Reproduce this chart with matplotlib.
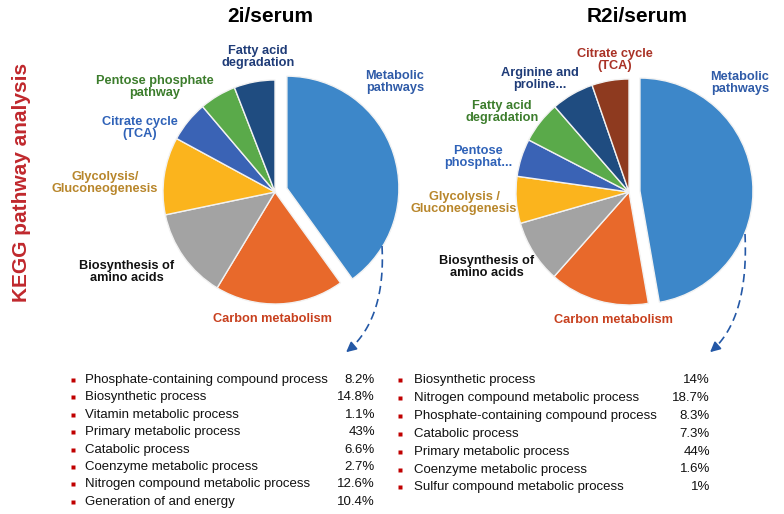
import numpy as np
import matplotlib
matplotlib.use("Agg")
import matplotlib.pyplot as plt

plt.rcParams["font.family"] = ["Liberation Sans", "DejaVu Sans"]

W, H = 784, 514

# KEGG pathway shares
left_labels = ["Metabolic\npathways", "Carbon metabolism", "Biosynthesis of\namino acids",
               "Glycolysis/\nGluconeogenesis", "Citrate cycle\n(TCA)",
               "Pentose phosphate\npathway", "Fatty acid\ndegradation"]
left_vals = [40.1, 18.6, 13.1, 11.2, 5.9, 5.3, 5.9]
left_colors = ["#3d87c9", "#e8692b", "#a3a3a3", "#fbb41d", "#3a63b5", "#5aaa4a", "#1f4c80"]
left_text_colors = ["#2f5ba8", "#c8401e", "#111111", "#b8862b", "#2f62b8", "#3c7d2c", "#1f3c78"]

right_labels = ["Metabolic\npathways", "Carbon metabolism", "Biosynthesis of\namino acids",
                "Glycolysis /\nGluconeogenesis", "Pentose\nphosphat...",
                "Fatty acid\ndegradation", "Arginine and\nproline...", "Citrate cycle\n(TCA)"]
right_vals = [47.3, 14.3, 9.0, 6.7, 5.4, 6.0, 6.1, 5.3]
right_colors = ["#3d87c9", "#e8692b", "#a3a3a3", "#fbb41d", "#3a63b5", "#5aaa4a", "#1f4c80", "#8e3a1f"]
right_text_colors = ["#2f5ba8", "#c8401e", "#111111", "#b8862b", "#2f62b8", "#3c7d2c", "#1f3c78", "#a93226"]

# GO process lists
left_terms = ["Phosphate-containing compound process", "Biosynthetic process",
              "Vitamin metabolic process", "Primary metabolic process", "Catabolic process",
              "Coenzyme metabolic process", "Nitrogen compound metabolic process",
              "Generation of and energy"]
left_pct = [8.2, 14.8, 1.1, 43, 6.6, 2.7, 12.6, 10.4]

right_terms = ["Biosynthetic process", "Nitrogen compound metabolic process",
               "Phosphate-containing compound process", "Catabolic process",
               "Primary metabolic process", "Coenzyme metabolic process",
               "Sulfur compound metabolic process"]
right_pct = [14, 18.7, 8.3, 7.3, 44, 1.6, 1]

# label positions in image pixels (x, y from top)
left_label_pos = [(395, 82), (272, 319), (127, 272), (105, 183), (140, 128), (155, 87), (258, 57)]
right_label_pos = [(740, 83), (613, 320), (487, 267), (464, 203), (478, 157), (502, 112), (540, 79), (615, 60)]

fig = plt.figure(figsize=(W / 100, H / 100), dpi=100)
ax = fig.add_axes([0, 0, 1, 1])


def Y(y):
    return H - y


def draw_pie(vals, colors, center, r, expl):
    # explode is in data units (pixels here)
    explode = [expl] + [0] * (len(vals) - 1)
    ax.pie(vals, colors=colors, startangle=90, counterclock=False, radius=r,
           center=(center[0], Y(center[1])), explode=explode,
           wedgeprops=dict(edgecolor="#f2f2f2", linewidth=1.0))


draw_pie(left_vals, left_colors, (275, 192), 112, 12.5)
draw_pie(right_vals, right_colors, (629, 192), 113, 11)

for labels, pos, cols in [(left_labels, left_label_pos, left_text_colors),
                          (right_labels, right_label_pos, right_text_colors)]:
    for lab, (x, y), c in zip(labels, pos, cols):
        ax.text(x, Y(y), lab, ha="center", va="center", fontsize=9.2, fontweight="bold",
                color=c, linespacing=1.05)

ax.text(270, Y(16), "2i/serum", ha="center", va="center", fontsize=15, fontweight="bold")
ax.text(637, Y(16), "R2i/serum", ha="center", va="center", fontsize=15, fontweight="bold")
ax.text(22, Y(182), "KEGG pathway analysis", rotation=90, ha="center", va="center",
        fontsize=15, fontweight="bold", color="#c0282d")


def dashed_arrow(p0, pc, p1):
    t = np.linspace(0, 1, 60)
    p0, pc, p1 = [np.array([p[0], Y(p[1])], float) for p in (p0, pc, p1)]
    pts = ((1 - t) ** 2)[:, None] * p0 + (2 * (1 - t) * t)[:, None] * pc + (t ** 2)[:, None] * p1
    ax.plot(pts[:-4, 0], pts[:-4, 1], color="#2458a6", lw=1.2, ls=(0, (5, 3)))
    ax.annotate("", xy=pts[-1], xytext=pts[-6],
                arrowprops=dict(arrowstyle="-|>,head_length=0.6,head_width=0.3",
                                color="#2458a6", lw=1.2))


dashed_arrow((382, 246), (386, 322), (344, 354))
dashed_arrow((745, 234), (749, 322), (708, 354))


def bullet_list(terms, pct, xb, xt, xv, y0, dy):
    for i, (term, p) in enumerate(zip(terms, pct)):
        y = Y(y0 + i * dy)
        ax.plot(xb, y, marker="s", ms=3.5, color="#c00000", mec="none")
        ax.text(xt, y, term, ha="left", va="center", fontsize=9.5, color="#111111")
        ax.text(xv, y, f"{p:g}%", ha="right", va="center", fontsize=9.5, color="#111111")


bullet_list(left_terms, left_pct, 73, 85, 375, 380, 17.4)
bullet_list(right_terms, right_pct, 400, 414, 710, 380, 17.9)

ax.set_xlim(0, W)
ax.set_ylim(0, H)
ax.set_aspect("equal")
ax.axis("off")

fig.savefig("out.png", dpi=100)
